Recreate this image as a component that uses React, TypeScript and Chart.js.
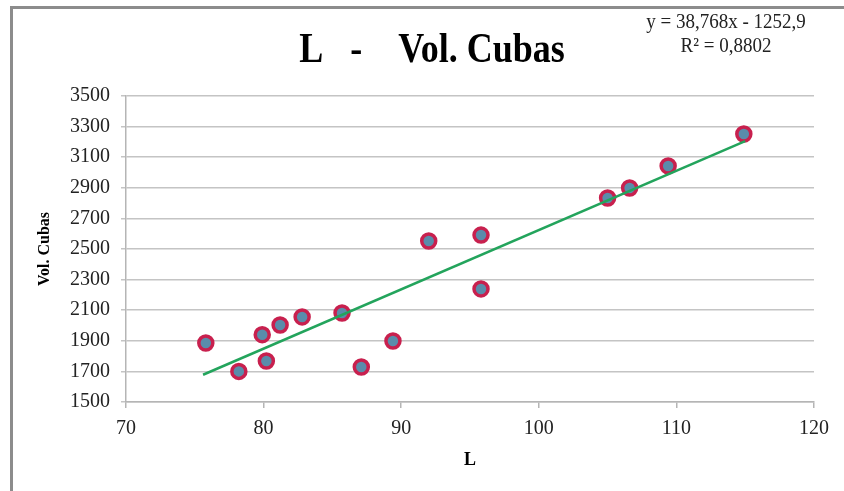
import React, { useEffect, useRef } from "react";
import { Chart, registerables } from "chart.js";

Chart.register(...registerables);

const chartTitle = "L   -    Vol. Cubas";
const xAxisTitle = "L";
const yAxisTitle = "Vol. Cubas";
const equationLines = ["y = 38,768x - 1252,9", "R² = 0,8802"];

const lValues = [75.8, 78.2, 79.9, 80.2, 81.2, 82.8, 85.7, 87.1, 89.4, 92.0, 95.8, 95.8, 105.0, 106.6, 109.4, 114.9];
const volValues = [1886, 1700, 1940, 1768, 2003, 2056, 2082, 1729, 1899, 2552, 2591, 2239, 2833, 2899, 3043, 3252];

const trendX = [75.6, 115.0];
const trendY = [1678, 3205];

const xMin = 70, xMax = 120, xStep = 10;
const yMin = 1500, yMax = 3500, yStep = 200;

const FONT = "'Liberation Serif', 'Times New Roman', serif";

const decorPlugin = {
  id: "decor",
  afterDraw(chart: any) {
    const ctx = chart.ctx;
    ctx.save();
    ctx.fillStyle = "#000";
    ctx.textAlign = "center";
    ctx.textBaseline = "alphabetic";
    ctx.save();
    ctx.translate(432, 62);
    ctx.scale(1, 1.15);
    ctx.font = `bold 36px ${FONT}`;
    ctx.fillText(chartTitle, 0, 0);
    ctx.restore();
    ctx.font = `20px ${FONT}`;
    ctx.fillStyle = "#222";
    ctx.save();
    ctx.translate(726, 28);
    ctx.scale(0.95, 1.1);
    ctx.fillText(equationLines[0], 0, 0);
    ctx.restore();
    ctx.save();
    ctx.translate(726, 52);
    ctx.scale(0.95, 1.1);
    ctx.fillText(equationLines[1], 0, 0);
    ctx.restore();
    ctx.restore();
  },
};

export default function App() {
  const ref = useRef<HTMLCanvasElement>(null);
  useEffect(() => {
    if (!ref.current) return;
    const points = lValues.map((x, i) => ({ x, y: volValues[i] }));
    const trend = trendX.map((x, i) => ({ x, y: trendY[i] }));
    const chart = new Chart(ref.current, {
      type: "scatter",
      data: {
        datasets: [
          {
            type: "line",
            data: trend,
            borderColor: "#23a45c",
            borderWidth: 2.5,
            pointRadius: 0,
            fill: false,
            order: 0,
          } as any,
          {
            data: points,
            backgroundColor: "#5a8cab",
            borderColor: "#c8204e",
            borderWidth: 3.5,
            pointRadius: 7,
            order: 1,
          },
        ],
      },
      options: {
        responsive: false,
        animation: false,
        layout: { padding: { top: 96, right: 30, left: 0, bottom: 0 } },
        plugins: {
          legend: { display: false },
          tooltip: { enabled: false },
          title: { display: false },
        },
        scales: {
          x: {
            type: "linear",
            min: xMin,
            max: xMax,
            afterFit: (s: any) => { s.height = 89; },
            ticks: {
              stepSize: xStep,
              color: "#222",
              font: { family: FONT, size: 20 },
              padding: 9,
              callback: (v: any) => String(v),
            },
            grid: {
              drawOnChartArea: false,
              drawTicks: true,
              tickLength: 6,
              color: "#b5b5b5",
              lineWidth: 1.5,
            },
            border: { color: "#b5b5b5", width: 1.5 },
            title: {
              display: true,
              text: xAxisTitle,
              color: "#000",
              font: { family: FONT, size: 18, weight: "bold" },
              padding: { top: 0, bottom: 20 },
            },
          },
          y: {
            type: "linear",
            min: yMin,
            max: yMax,
            afterFit: (s: any) => { s.width = 126; },
            ticks: {
              stepSize: yStep,
              color: "#222",
              font: { family: FONT, size: 20 },
              padding: 11,
              callback: (v: any) => String(v),
            },
            grid: {
              color: "#c4c4c4",
              lineWidth: 1.5,
              drawTicks: true,
              tickLength: 5,
            },
            border: { color: "#b5b5b5", width: 1.5 },
            title: {
              display: true,
              text: yAxisTitle,
              color: "#000",
              font: { family: FONT, size: 16, weight: "bold" },
              padding: { top: 35, bottom: 0 },
            },
          },
        },
      },
      plugins: [decorPlugin],
    });
    return () => chart.destroy();
  }, []);

  return (
    <div style={{ position: "absolute", left: 0, top: 0, width: 844, height: 491, background: "#fff" }}>
      <canvas ref={ref} width={844} height={491} style={{ display: "block" }} />
      <div
        style={{
          position: "absolute",
          left: 10,
          top: 6,
          right: 0,
          bottom: 0,
          borderLeft: "3px solid #8c8c8c",
          borderTop: "3px solid #8c8c8c",
          pointerEvents: "none",
        }}
      />
    </div>
  );
}
